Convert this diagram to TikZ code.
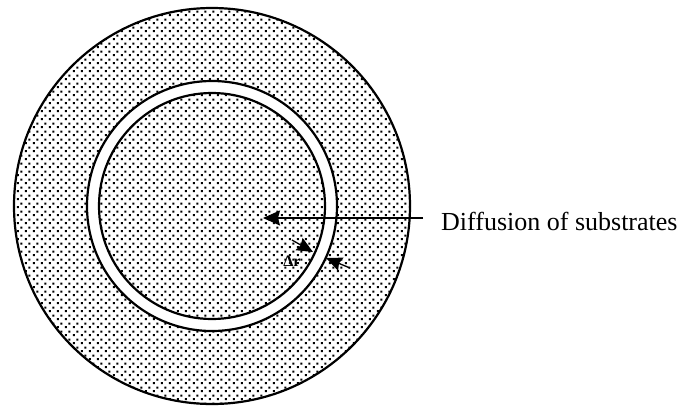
\documentclass[tikz,border=0pt]{standalone}
\usepackage{fontspec}
\setmainfont{Liberation Serif}
\usetikzlibrary{arrows.meta,patterns.meta}
\tikzdeclarepattern{
  name=mydots,
  type=uncolored,
  bounding box={(0pt,0pt) and (8pt,8pt)},
  tile size={(8pt,8pt)},
  code={
    \fill (0.9pt,0.9pt) rectangle (3.1pt,3.1pt);
    \fill (4.9pt,4.9pt) rectangle (7.1pt,7.1pt);
  }
}
\tikzset{
  edge/.style={line width=2.2pt},
  mainarrow/.style={line width=1.5pt,-{Stealth[length=17pt,width=15pt,inset=2pt]}},
  smallarrow/.style={line width=1.3pt,-{Stealth[length=16pt,width=14pt,inset=2pt]}},
  lbl/.style={font=\fontsize{26}{30}\selectfont},
  dlbl/.style={font=\bfseries\fontsize{16}{18}\selectfont}
}
\begin{document}
\begin{tikzpicture}[x=1pt,y=-1pt]
\useasboundingbox (0,0) rectangle (686,408);
% dotted regions: outer annulus and inner disk
\fill[pattern=mydots,pattern color=black,even odd rule]
  (212,206) circle (198) (212,206) circle (125) (212,206) circle (113);
% outlines
\draw[edge] (212,206) circle (198);
\draw[edge] (212,206) circle (125);
\draw[edge] (212,206) circle (113);
% main arrow
\node[lbl,anchor=base west,inner sep=0pt] (label) at (441,230) {Diffusion of substrates};
\coordinate (linestart) at (423,218);
\coordinate (tip) at (263,218);
\draw[mainarrow] (linestart) -- (tip);
% delta r arrows
\coordinate (a1s) at (292,240);
\coordinate (a1e) at (313,252);
\coordinate (a2s) at (350,268);
\coordinate (a2e) at (326,258);
\draw[smallarrow] (a1s) -- (a1e);
\draw[smallarrow] (a2s) -- (a2e);
\node[dlbl,inner sep=0pt] (dr) at (292,261) {Δr};
\end{tikzpicture}
\end{document}
